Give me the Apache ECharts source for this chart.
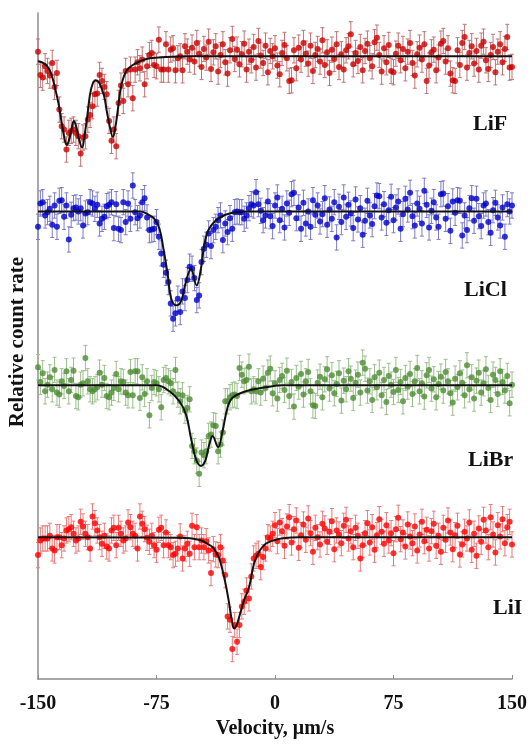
<!DOCTYPE html>
<html>
<head>
<meta charset="utf-8">
<script src="https://cdn.jsdelivr.net/npm/echarts@6/dist/echarts.min.js"></script>
<style>
  html, body { margin: 0; padding: 0; background: #fff; }
  #chart { width: 530px; height: 744px; }
</style>
</head>
<body>
<div id="chart"></div>
<script>
// velocity channels, um/s
const V_START = -150;
const V_STEP = 1.5;

const samples = ["LiF", "LiCl", "LiBr", "LiI"];

// count rate per channel, relative to each spectrum's baseline
const countsLiF = [
  0.7, -2.8, -3.2, -1.5, -2.2, -2.9, -1.0, -4.6, -2.5, -8.0,
  -10.5, -11.0, -14.0, -11.5, -11.2, -11.0, -11.5, -12.0, -14.6, -12.2,
  -12.0, -9.5, -8.8, -7.5, -5.7, -5.6, -2.8, -3.7, -4.6, -5.7,
  -9.7, -12.7, -11.0, -13.5, -7.0, -4.4, -6.7, -2.2, -4.2, -2.0,
  -6.3, -2.0, -0.9, -1.8, -0.5, -4.2, -1.5, 0.2, 0.5, -1.3,
  -1.5, 2.5, -2.0, -2.0, 1.8, -2.0, 1.0, 1.2, -2.1, -0.3,
  0.0, -2.1, 1.5, 0.7, -0.5,
  1.3, -0.8, 2.0, 0.4, -1.6, 1.1, -0.2, 2.2, -1.9, 0.6,
  1.5, -2.3, 0.2, 1.8, -0.9, -2.6, 0.9, 2.6, -0.4, 1.0,
  -1.2, 0.3, 1.9, -2.0, 0.7, -0.6, 1.4, -1.7, 2.3, 0.1,
  -1.0, 1.6, -2.4, 0.8, 0.0, 1.2, -1.4, -2.7, 0.5, 1.7,
  -0.3, -3.7, -3.6, 0.9, -1.8, 1.3, -0.5, 2.0, 0.4, -1.1,
  1.6, -2.2, 0.2, 1.1, -0.8, 2.4, -1.3, 0.6, -2.5, 1.0,
  -0.4, 1.8, -1.6, 0.3, -2.0, 0.9, 1.5, 3.3, -1.2, 0.5,
  -0.7, 1.4, -2.1, 0.8, 1.9, -0.3, -1.5, 2.1, 2.8, 0.2,
  -2.3, 1.2, -0.9, 1.7, -2.2, -2.4, 0.4, 1.6, -0.6, 1.1,
  -1.8, 0.7, 2.0, -1.0, -2.9, 0.3, 1.3, -0.5, 1.8, -3.7,
  -1.4, 0.6, 1.0, -2.1, -0.2, 1.9, 2.3, -0.8, 1.2, -2.6,
  -3.6, -3.7, 0.9, -1.3, 2.0, 2.9, -1.7, 0.5, 1.5, -1.1,
  0.8, -2.0, 1.6, 2.2, -0.6, -1.9, 0.2, 1.4, -2.4, 0.7,
  1.8, -0.9, 1.1, 2.9, -1.7, -1.6
];

const countsLiCl = [
  -2.3, 1.2, 1.4, -0.6, -0.1, 0.4, -2.0, 0.9, -2.3, 1.6,
  1.7, -0.8, 0.9, -4.2, -0.5, 0.5, 0.6, 0.0, 0.5, -2.1,
  -0.3, -0.1, 1.4, 1.2, 0.4, 1.0, -1.8, -1.1, -0.8, 0.8,
  1.0, 1.4, -2.5, 1.1, -2.6, -2.8, 1.4, -1.6, 1.2, -1.1,
  3.9, -0.1, -1.0, -0.6, 1.4, 2.0, -0.9, -2.8, -2.7, -2.6,
  -1.6, -3.8, -6.3, -8.0, -9.2, -10.6, -13.8, -16.1, -15.3, -13.1,
  -15.1, -12.0, -13.0, -10.3, -8.3, -8.6, -10.0, -13.3, -12.6, -7.6,
  -5.6, -5.0, -3.3, -5.2, -2.8, -2.3, -1.3, -0.6, -4.3, -1.8,
  -3.1, -1.0, -2.6, -0.1, 0.0, -0.1, -0.1, -1.1, -0.6, 0.5,
  1.1, 0.9, 2.9, 1.1, 0.1, -1.3, -0.6,
  1.5, -0.7, -2.2, 0.9, 2.1, -1.3, 0.4, -2.4, 1.2, -0.2,
  2.6, 2.8, -1.0, 0.6, -2.6, 1.3, -1.8, 0.0, -2.3, 1.7,
  -0.5, 0.9, -1.5, -0.4, 2.0, -2.0, 0.3, -1.1, 1.4, -3.9,
  0.7, -1.6, 2.1, -0.8, 1.0, -0.3, -2.5, 1.8, -1.2, 0.5,
  -3.5, -1.4, 1.6, -0.6, -1.9, 0.8, 2.4, 2.3, -0.9, 1.1,
  -1.7, 0.2, 2.2, -1.3, 0.6, 1.5, -2.6, -0.4, 1.9, 0.3,
  2.8, -0.7, -2.1, 1.2, 0.4, -1.8, 3.1, 1.0, -2.4, 0.1,
  1.4, -0.9, -2.3, 2.6, 2.7, -1.1, 0.8, -2.9, 1.5, -0.2,
  1.7, 1.6, -3.6, -0.6, -2.8, 0.5, 2.0, -1.4, 1.9, -0.7,
  -2.2, 0.9, 1.2, -1.6, -3.2, 0.2, 1.3, -0.9, -2.1, 0.6,
  -3.8, 1.1, 0.0, 0.9
];

const countsLiBr = [
  2.7, 0.5, 1.8, -0.9, 0.1, 1.2, -0.6, 2.3, -1.1, -1.4,
  0.6, -0.1, 2.1, -0.9, 0.8, 2.2, -1.6, -1.8, 0.1, 0.3,
  4.1, 0.6, -0.6, -0.9, -0.6, -0.3, 1.9, 0.1, 1.1, -1.6,
  -1.8, -1.1, -0.4, 1.7, -0.6, 0.6, 0.5, -1.1, -1.5, 2.0,
  -1.5, 2.1, 2.1, -1.9, 1.2, -1.3, 0.6, -4.5, -0.4, 0.5,
  0.3, -0.6, -3.3, 0.8, 1.1, 0.6, 0.3, -0.9, 2.3, -1.4,
  -2.4, -1.5, -3.8, -3.4, -2.1, -9.1, -9.9, -11.3, -13.3, -10.1,
  -10.5, -9.9, -7.6, -7.4, -6.0, -6.1, -9.9, -8.9, -7.1, -2.4,
  -2.4, -1.8, -1.5, -1.4, -1.6, 2.6, 1.6, 0.6, 0.8, 2.8,
  -0.9, -0.6, -0.9, 0.6, -1.1,
  1.0, -0.4, 1.9, 2.5, -1.2, 0.3, -2.0, 0.8, 1.4, -0.7,
  2.2, -1.6, 0.5, -3.2, 1.1, -0.2, 1.7, -1.4, 0.6, 2.0,
  -0.9, -3.0, -3.1, 0.4, 1.3, -1.8, 0.9, 2.4, -0.5, 1.5,
  -1.2, 0.2, 1.8, -2.3, 0.7, -0.6, 2.1, 1.0, -1.9, 0.4,
  1.6, -1.1, 3.4, 2.5, -0.8, 0.6, -2.2, 1.2, -0.3, 1.9,
  -1.5, 0.8, -2.5, 1.4, 0.1, -1.0, 2.3, -0.7, 0.5, -2.4,
  1.1, -0.2, 1.7, -1.3, 0.6, 2.6, -0.9, 0.3, -1.7, 1.5,
  2.3, -0.5, 0.9, -1.8, 0.2, 1.3, -0.8, 2.0, 0.6, -1.2,
  -2.6, 1.0, -0.3, 1.8, 0.4, -1.5, 3.0, -0.6, 1.2, -2.0,
  0.7, 1.9, -1.1, 0.3, 2.4, -0.4, -2.2, 1.6, 0.8, -1.3,
  2.1, 0.5, -0.8, 1.4, -2.7, 0.1
];

const countsLiI = [
  -2.7, -0.5, -0.2, -0.2, -0.2, 0.2, -1.7, -2.0, 0.0, 0.0,
  -1.2, -0.2, 1.0, 1.2, 1.5, 0.5, -0.5, -0.2, 2.3, 1.6,
  0.5, 0.0, -1.7, 3.1, 2.1, 1.0, 0.0, -1.0, 0.2, -1.4,
  -1.7, 1.0, 1.4, -1.2, 1.4, 0.5, -0.5, -0.2, 2.2, 1.5,
  0.5, 0.2, -1.7, 3.1, 2.0, 1.2, -0.1, -0.7, 0.2, -1.2,
  -1.9, 1.1, 1.4, -1.2, 0.7, -1.2, -1.5, -2.7, -2.5, -1.7,
  0.1, -3.2, -1.7, -1.0, -2.5, 1.7, -1.5, 1.5, -1.5, -0.5,
  -1.5, -0.6, -2.0, -5.4, -1.8, -2.6, -2.7, -1.5, -3.5, -5.7,
  -11.9, -12.4, -16.8, -13.2, -15.7, -13.2, -10.4, -9.7, -8.0, -9.2,
  -5.9, -3.2, -2.8, -2.5, -4.5, -3.0, -1.7, 0.0, -0.2,
  0.5, 1.8, -0.6, 2.2, 0.9, -1.3, 1.6, 3.0, -0.8, 1.2,
  2.5, -1.6, 0.3, 1.9, -0.4, 2.8, 0.6, -2.2, 1.4, 0.0,
  -1.1, 2.0, 1.3, -0.7, 0.8, 2.4, -1.8, 1.0, 0.4, -0.9,
  1.7, 2.6, -0.2, 0.9, -1.5, 1.4, 0.2, -3.2, -1.2, 0.6,
  2.1, -0.8, 1.5, -1.9, 0.3, 2.7, 0.8, -1.0, 1.8, -0.5,
  0.6, -2.4, 1.2, 2.9, -0.3, 0.7, -1.4, 1.9, 0.1, -0.9,
  1.6, -2.0, 0.4, 2.3, -0.6, 1.1, -1.7, 0.9, 2.0, -1.3,
  0.2, -2.2, 1.4, -0.4, 2.5, 0.7, -1.8, 0.3, 1.7, -2.6,
  -1.1, 0.8, -0.2, 2.2, -1.9, 0.5, -2.8, 1.3, -0.7, 2.6,
  1.0, -1.5, 3.0, 0.4, -2.3, 1.8, 0.1, 2.7, -0.9, 1.5,
  2.3, -1.1
];

// statistical error per point
const sigma = [1.9, 1.9, 1.9, 1.9];

// fitted curves: [velocity, relative count]
const fitLiF = [
  [-150, -0.7], [-146, -1.1], [-143, -1.9], [-141, -3.1], [-139, -5.0], [-137, -7.1],
  [-135, -10.0], [-133, -12.6], [-131.9, -13.3], [-130.5, -12.7], [-129, -11.2],
  [-127.3, -9.7], [-125.8, -10.6], [-124.3, -12.2], [-122.1, -13.7], [-120.5, -11.8],
  [-119, -9.4], [-117.2, -5.9], [-115.5, -4.2], [-113.6, -3.6], [-111.5, -3.9],
  [-109.9, -4.7], [-108, -6.1], [-106.5, -8.2], [-104.5, -10.6], [-102.6, -12.1],
  [-101, -10.6], [-99.4, -7.9], [-97.3, -4.4], [-94.1, -2.2], [-90, -1.3],
  [-85, -0.7], [-79.4, -0.3], [-69, -0.1], [-55, 0], [150, 0]
];
const fitLiCl = [
  [-150, 0], [-85, 0], [-81.5, -0.3], [-76.3, -1.1], [-73.1, -2.6], [-70.6, -5.6],
  [-67.9, -9.5], [-65.8, -13.0], [-62.6, -14.1], [-59.5, -13.5], [-56.3, -10.5],
  [-53.2, -8.6], [-49.6, -11.1], [-46.9, -8.6], [-44.8, -5.1], [-41.7, -2.6],
  [-35.4, -1.0], [-27, -0.2], [-15, 0], [150, 0]
];
const fitLiBr = [
  [-150, 0], [-75, 0], [-66.8, -0.9], [-60.5, -2.4], [-56.3, -4.4], [-53.2, -7.9],
  [-50, -11.1], [-46.9, -12.1], [-44.1, -11.3], [-41.6, -8.9], [-39.5, -7.6],
  [-36, -9.3], [-33.2, -6.9], [-30.1, -3.4], [-27, -1.9], [-18.5, -0.9],
  [-5.9, -0.3], [5, 0], [150, 0]
];
const fitLiI = [
  [-150, 0], [-60, -0.1], [-48, -0.4], [-42.7, -1.0], [-39.5, -1.5], [-37.4, -2.2],
  [-35.3, -3.2], [-33.2, -5.0], [-31.1, -7.2], [-29, -10.0], [-27.3, -12.5],
  [-25.9, -13.7], [-24.3, -13.2], [-22.7, -12.0], [-19.6, -9.5], [-16.4, -7.5],
  [-13.3, -4.0], [-10.1, -2.2], [-5.9, -1.0], [0.4, -0.4], [5, -0.15], [15, 0], [150, 0]
];

const velocityTicks = [-150, -75, 0, 75, 150];

// layout / style
const counts = [countsLiF, countsLiCl, countsLiBr, countsLiI];
const fits = [fitLiF, fitLiCl, fitLiBr, fitLiI];
const offset = [93.5, 70.2, 44.1, 21.3];
const dotColor = ["#cc0000", "#0000cc", "#4e8c35", "#ff0000"];
const barColor = ["#c07474", "#7c7cc8", "#9cbf8c", "#e87c7c"];
const labelPos = [[473, 124], [464, 290], [468, 460], [493, 608]];
const serif = "'Liberation Serif', 'Times New Roman', serif";

const chart = echarts.init(document.getElementById("chart"));

let series = [];
samples.forEach((name, k) => {
  const pts = counts[k].map((c, i) => [V_START + i * V_STEP, c + offset[k], sigma[k]]);
  series.push({
    type: "custom",
    name: name + " error",
    data: pts,
    encode: { x: 0, y: 1 },
    silent: true,
    z: 1,
    renderItem: (params, api) => {
      const x = api.value(0), y = api.value(1), e = api.value(2);
      const top = api.coord([x, y + e]);
      const bot = api.coord([x, y - e]);
      const st = { stroke: barColor[k], lineWidth: 1 };
      return {
        type: "group",
        children: [
          { type: "line", shape: { x1: top[0], y1: top[1], x2: bot[0], y2: bot[1] }, style: st },
          { type: "line", shape: { x1: top[0] - 2, y1: top[1], x2: top[0] + 2, y2: top[1] }, style: st },
          { type: "line", shape: { x1: bot[0] - 2, y1: bot[1], x2: bot[0] + 2, y2: bot[1] }, style: st },
        ],
      };
    },
  });
  series.push({
    type: "scatter",
    name: name,
    data: pts.map((p) => [p[0], p[1]]),
    symbolSize: 6,
    itemStyle: { color: dotColor[k] },
    z: 2,
  });
  series.push({
    type: "line",
    name: name + " fit",
    data: fits[k].map((p) => [p[0], p[1] + offset[k]]),
    smooth: 0.4,
    showSymbol: false,
    lineStyle: { color: "#111", width: 2 },
    z: 3,
  });
});

const option = {
  animation: false,
  backgroundColor: "#fff",
  grid: { left: 38, right: 16, top: 13, bottom: 61 },
  xAxis: {
    type: "value",
    min: velocityTicks[0],
    max: velocityTicks[velocityTicks.length - 1],
    interval: 75,
    name: "Velocity, \u03bcm/s",
    nameLocation: "middle",
    nameGap: 40,
    nameTextStyle: { fontFamily: serif, fontWeight: "bold", fontSize: 20, color: "#111" },
    axisLine: { onZero: false, lineStyle: { color: "#8c8c8c", width: 1.5 } },
    axisTick: { inside: true, length: 4, lineStyle: { color: "#8c8c8c" } },
    axisLabel: { margin: 15, fontFamily: serif, fontWeight: "bold", fontSize: 20, color: "#111" },
    splitLine: { show: false },
  },
  yAxis: {
    type: "value",
    min: 0,
    max: 100,
    axisLine: { show: true, onZero: false, lineStyle: { color: "#8c8c8c", width: 1.5 } },
    axisTick: { show: false },
    axisLabel: { show: false },
    splitLine: { show: false },
  },
  graphic: [
    {
      type: "text",
      x: 18,
      y: 342,
      rotation: Math.PI / 2,
      style: {
        text: "Relative count rate",
        font: "bold 21px " + serif,
        fill: "#111",
        textAlign: "center",
        textVerticalAlign: "middle",
      },
    },
  ].concat(
    samples.map((name, k) => ({
      type: "text",
      x: labelPos[k][0],
      y: labelPos[k][1],
      style: {
        text: name,
        font: "bold 22px " + serif,
        fill: "#111",
        textAlign: "left",
        textVerticalAlign: "middle",
      },
    }))
  ),
  series: series,
};

chart.setOption(option);
</script>
</body>
</html>
